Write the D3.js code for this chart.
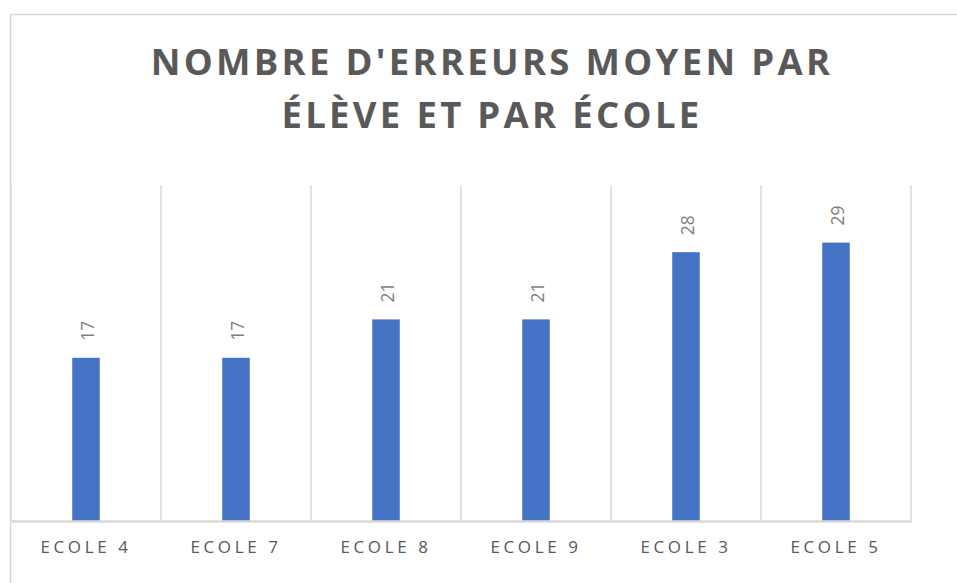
<!DOCTYPE html>
<html>
<head>
<meta charset="utf-8">
<script src="https://cdn.jsdelivr.net/npm/d3@7"></script>
<style>
  html, body { margin: 0; padding: 0; background: #fff; }
  svg { display: block; }
</style>
</head>
<body>
<svg id="chart" width="957" height="583"></svg>
<script>
const titleLines = ["NOMBRE D'ERREURS MOYEN PAR", "ÉLÈVE ET PAR ÉCOLE"];
const categories = ["ECOLE 4", "ECOLE 7", "ECOLE 8", "ECOLE 9", "ECOLE 3", "ECOLE 5"];
const values = [17, 17, 21, 21, 28, 29];
const yDomain = [0, 35];

const svg = d3.select("#chart");
const plot = { left: 11, right: 911, top: 185, bottom: 521 };

// chart border
svg.append("rect")
  .attr("x", 10.5).attr("y", 14.5)
  .attr("width", 980).attr("height", 600)
  .attr("fill", "#fff")
  .attr("stroke", "#d9d9d9").attr("stroke-width", 1.5);

// title
const title = svg.append("text")
  .attr("text-anchor", "middle")
  .attr("font-family", "'Open Sans', sans-serif")
  .attr("font-weight", "bold")
  .attr("font-size", 36.5)
  .attr("letter-spacing", 3.3)
  .attr("fill", "#595959");
title.selectAll("tspan").data(titleLines).join("tspan")
  .attr("x", 492)
  .attr("y", (d, i) => 75 + i * 53)
  .text(d => d);

const x = d3.scaleBand().domain(categories).range([plot.left, plot.right]).paddingInner(0).paddingOuter(0);
const y = d3.scaleLinear().domain(yDomain).range([plot.bottom, plot.top]);

// vertical gridlines at category boundaries
const bounds = categories.map(c => x(c)).concat([x(categories[categories.length - 1]) + x.bandwidth()]);
svg.append("g").selectAll("line").data(bounds).join("line")
  .attr("x1", d => d).attr("x2", d => d)
  .attr("y1", plot.top).attr("y2", plot.bottom)
  .attr("stroke", "#d9d9d9").attr("stroke-width", 1.5);

// bars
const barW = 27.5;
svg.append("g").selectAll("rect").data(values).join("rect")
  .attr("x", (d, i) => x(categories[i]) + x.bandwidth() / 2 - barW / 2)
  .attr("y", d => y(d))
  .attr("width", barW)
  .attr("height", d => y(0) - y(d))
  .attr("fill", "#4472C4");

// data labels
svg.append("g").selectAll("text").data(values).join("text")
  .attr("transform", (d, i) => `translate(${x(categories[i]) + x.bandwidth() / 2 + 0.5},${y(d) - 17}) rotate(-90)`)
  .attr("text-anchor", "start")
  .attr("dominant-baseline", "central")
  .attr("font-family", "'Open Sans', sans-serif")
  .attr("font-size", 17.5)
  .attr("fill", "#7f7f7f")
  .text(d => d);

// x axis
const axis = svg.append("g")
  .attr("transform", `translate(0,${plot.bottom})`)
  .call(d3.axisBottom(x).tickSize(0).tickPadding(20));
axis.select(".domain")
  .attr("stroke", "#d9d9d9").attr("stroke-width", 2.5);
axis.selectAll(".tick text")
  .attr("font-family", "'Open Sans', sans-serif")
  .attr("font-size", 17)
  .attr("letter-spacing", 3.6)
  .attr("fill", "#595959");
</script>
</body>
</html>
